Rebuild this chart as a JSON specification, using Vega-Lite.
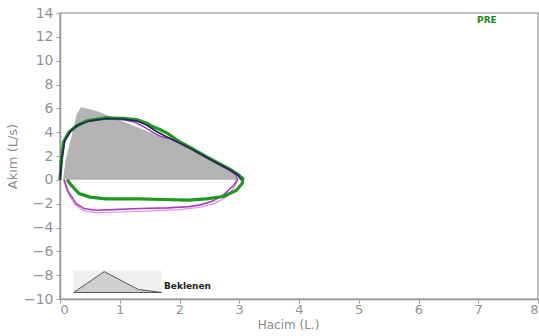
{
  "$schema": "https://vega.github.io/schema/vega-lite/v6.json",
  "width": 478,
  "height": 286,
  "autosize": {"type": "none"},
  "padding": {"left": 60, "top": 13, "right": 1, "bottom": 37},
  "background": "white",
  "config": {
    "view": {"stroke": "#b0b0b0", "strokeWidth": 1.5},
    "axis": {
      "grid": false,
      "labelFont": "DejaVu Sans",
      "labelFontSize": 14,
      "labelColor": "#939393",
      "labelOverlap": false,
      "labelBound": false,
      "titleFont": "DejaVu Sans",
      "titleFontSize": 13,
      "titleFontWeight": "normal",
      "titleColor": "#8c8c8c",
      "domainColor": "#9a9a9a",
      "domainWidth": 1.5,
      "tickColor": "#9a9a9a",
      "tickSize": 4
    }
  },
  "datasets": {
    "pred": [
      {"x": 0.05, "y": 0}, {"x": 0.1, "y": 1.8}, {"x": 0.2, "y": 3.8}, {"x": 0.28, "y": 5.5},
      {"x": 0.35, "y": 6.1}, {"x": 0.6, "y": 5.8}, {"x": 1.0, "y": 5.0}, {"x": 1.5, "y": 4.0},
      {"x": 2.0, "y": 3.0}, {"x": 2.5, "y": 1.8}, {"x": 2.8, "y": 0.9}, {"x": 3.0, "y": 0}
    ],
    "pink": [
      {"i": 0, "x": 2.97, "y": 0}, {"i": 1, "x": 2.92, "y": -0.6}, {"i": 2, "x": 2.8, "y": -1.4},
      {"i": 3, "x": 2.6, "y": -1.95}, {"i": 4, "x": 2.35, "y": -2.3}, {"i": 5, "x": 2.0, "y": -2.5},
      {"i": 6, "x": 1.5, "y": -2.6}, {"i": 7, "x": 1.0, "y": -2.7}, {"i": 8, "x": 0.6, "y": -2.75},
      {"i": 9, "x": 0.4, "y": -2.6}, {"i": 10, "x": 0.25, "y": -2.1}, {"i": 11, "x": 0.12, "y": -1.0},
      {"i": 12, "x": 0.06, "y": 0}
    ],
    "purple": [
      {"i": 0, "x": 0, "y": 0}, {"i": 1, "x": 0.03, "y": 1.8}, {"i": 2, "x": 0.08, "y": 3.3},
      {"i": 3, "x": 0.18, "y": 4.1}, {"i": 4, "x": 0.3, "y": 4.6}, {"i": 5, "x": 0.5, "y": 4.95},
      {"i": 6, "x": 0.77, "y": 5.1}, {"i": 7, "x": 1.05, "y": 5.05}, {"i": 8, "x": 1.25, "y": 4.85},
      {"i": 9, "x": 1.42, "y": 4.4}, {"i": 10, "x": 1.55, "y": 4.0}, {"i": 11, "x": 1.68, "y": 3.65},
      {"i": 12, "x": 1.85, "y": 3.4}, {"i": 13, "x": 2.0, "y": 3.05}, {"i": 14, "x": 2.2, "y": 2.55},
      {"i": 15, "x": 2.45, "y": 1.85}, {"i": 16, "x": 2.65, "y": 1.3}, {"i": 17, "x": 2.84, "y": 0.8},
      {"i": 18, "x": 2.95, "y": 0.35}, {"i": 19, "x": 2.97, "y": 0}, {"i": 20, "x": 2.9, "y": -0.5},
      {"i": 21, "x": 2.75, "y": -1.2}, {"i": 22, "x": 2.57, "y": -1.75}, {"i": 23, "x": 2.35, "y": -2.1},
      {"i": 24, "x": 2.16, "y": -2.25}, {"i": 25, "x": 1.8, "y": -2.35}, {"i": 26, "x": 1.33, "y": -2.4},
      {"i": 27, "x": 0.9, "y": -2.5}, {"i": 28, "x": 0.6, "y": -2.55}, {"i": 29, "x": 0.4, "y": -2.4},
      {"i": 30, "x": 0.27, "y": -2.0}, {"i": 31, "x": 0.13, "y": -0.9}, {"i": 32, "x": 0.07, "y": 0}
    ],
    "green": [
      {"i": 0, "x": 0, "y": 0}, {"i": 1, "x": 0.02, "y": 1.5}, {"i": 2, "x": 0.06, "y": 3.2},
      {"i": 3, "x": 0.15, "y": 4.0}, {"i": 4, "x": 0.27, "y": 4.5}, {"i": 5, "x": 0.45, "y": 4.95},
      {"i": 6, "x": 0.77, "y": 5.2}, {"i": 7, "x": 1.05, "y": 5.15}, {"i": 8, "x": 1.28, "y": 5.05},
      {"i": 9, "x": 1.45, "y": 4.75}, {"i": 10, "x": 1.56, "y": 4.45}, {"i": 11, "x": 1.68, "y": 4.2},
      {"i": 12, "x": 1.8, "y": 3.9}, {"i": 13, "x": 2.0, "y": 3.2}, {"i": 14, "x": 2.2, "y": 2.65},
      {"i": 15, "x": 2.45, "y": 1.95}, {"i": 16, "x": 2.65, "y": 1.4}, {"i": 17, "x": 2.84, "y": 0.9},
      {"i": 18, "x": 2.98, "y": 0.45}, {"i": 19, "x": 3.06, "y": 0.1}, {"i": 20, "x": 3.05, "y": -0.3},
      {"i": 21, "x": 2.95, "y": -0.9}, {"i": 22, "x": 2.73, "y": -1.4}, {"i": 23, "x": 2.45, "y": -1.6},
      {"i": 24, "x": 2.16, "y": -1.7}, {"i": 25, "x": 1.7, "y": -1.65}, {"i": 26, "x": 1.33, "y": -1.6},
      {"i": 27, "x": 0.77, "y": -1.6}, {"i": 28, "x": 0.5, "y": -1.45}, {"i": 29, "x": 0.32, "y": -1.15},
      {"i": 30, "x": 0.18, "y": -0.4}, {"i": 31, "x": 0.12, "y": 0}
    ],
    "navy": [
      {"i": 0, "x": 0, "y": 0}, {"i": 1, "x": 0.03, "y": 1.8}, {"i": 2, "x": 0.08, "y": 3.3},
      {"i": 3, "x": 0.18, "y": 4.1}, {"i": 4, "x": 0.3, "y": 4.6}, {"i": 5, "x": 0.5, "y": 4.95},
      {"i": 6, "x": 0.77, "y": 5.15}, {"i": 7, "x": 1.05, "y": 5.1}, {"i": 8, "x": 1.28, "y": 4.95},
      {"i": 9, "x": 1.45, "y": 4.6}, {"i": 10, "x": 1.6, "y": 4.1}, {"i": 11, "x": 1.75, "y": 3.7},
      {"i": 12, "x": 2.0, "y": 3.1}, {"i": 13, "x": 2.2, "y": 2.6}, {"i": 14, "x": 2.45, "y": 1.9},
      {"i": 15, "x": 2.65, "y": 1.35}, {"i": 16, "x": 2.84, "y": 0.85}, {"i": 17, "x": 2.98, "y": 0.4},
      {"i": 18, "x": 3.03, "y": 0}
    ],
    "legbox": [{"x": 0.22, "x2": 1.7, "y": -7.6, "y2": -9.4}],
    "legtri": [
      {"x": 0.23, "y": -9.45}, {"x": 0.74, "y": -7.7}, {"x": 1.31, "y": -9.2}, {"x": 1.7, "y": -9.45}
    ],
    "labels": [
      {"x": 1.74, "y": -8.95, "t": "Beklenen", "c": "leg"},
      {"x": 6.98, "y": 13.4, "t": "PRE", "c": "pre"}
    ]
  },
  "layer": [
    {
      "data": {"name": "legbox"},
      "mark": {"type": "rect", "color": "#efefef"},
      "encoding": {
        "x": {"field": "x", "type": "quantitative", "scale": {"domain": [0, 8], "nice": false},
          "axis": {"values": [0,1,2,3,4,5,6,7,8], "format": "d", "labelOverlap": false, "labelFontSize": 13, "title": "Hacim (L.)", "titleFontSize": 12, "labelPadding": 0, "titlePadding": 3, "titleX": 228}},
        "x2": {"field": "x2"},
        "y": {"field": "y", "type": "quantitative", "scale": {"domain": [-10, 14], "nice": false},
          "axis": {"values": [-10,-8,-6,-4,-2,0,2,4,6,8,10,12,14], "tickCount": 13, "format": "d", "labelOverlap": false, "title": "Akım (L/s)", "labelPadding": 3, "titlePadding": 4}},
        "y2": {"field": "y2"}
      }
    },
    {
      "data": {"name": "legtri"},
      "mark": {"type": "area", "color": "#cfcfcf", "stroke": "#555", "strokeWidth": 1},
      "encoding": {
        "x": {"field": "x", "type": "quantitative"},
        "y": {"field": "y", "type": "quantitative"},
        "y2": {"datum": -9.45}
      }
    },
    {
      "data": {"name": "pred"},
      "mark": {"type": "area", "color": "#b3b3b3"},
      "encoding": {
        "x": {"field": "x", "type": "quantitative"},
        "y": {"field": "y", "type": "quantitative"},
        "y2": {"datum": 0}
      }
    },
    {
      "mark": {"type": "rule", "color": "#333333", "strokeWidth": 1.5},
      "encoding": {"y": {"datum": 0}}
    },
    {
      "mark": {"type": "rule", "color": "#888888", "strokeWidth": 2},
      "encoding": {"x": {"datum": 8}}
    },
    {
      "data": {"name": "pink"},
      "mark": {"type": "line", "color": "#e58ee5", "strokeWidth": 1.2},
      "encoding": {
        "x": {"field": "x", "type": "quantitative"},
        "y": {"field": "y", "type": "quantitative"},
        "order": {"field": "i"}
      }
    },
    {
      "data": {"name": "purple"},
      "mark": {"type": "line", "color": "#a23fc4", "strokeWidth": 1.6},
      "encoding": {
        "x": {"field": "x", "type": "quantitative"},
        "y": {"field": "y", "type": "quantitative"},
        "order": {"field": "i"}
      }
    },
    {
      "data": {"name": "green"},
      "mark": {"type": "line", "color": "#1d9a1d", "strokeWidth": 3.2},
      "encoding": {
        "x": {"field": "x", "type": "quantitative"},
        "y": {"field": "y", "type": "quantitative"},
        "order": {"field": "i"}
      }
    },
    {
      "data": {"name": "navy"},
      "mark": {"type": "line", "color": "#23235e", "strokeWidth": 1.6},
      "encoding": {
        "x": {"field": "x", "type": "quantitative"},
        "y": {"field": "y", "type": "quantitative"},
        "order": {"field": "i"}
      }
    },
    {
      "data": {"name": "labels"},
      "mark": {"type": "text", "align": "left", "font": "DejaVu Sans", "fontWeight": "bold", "fontSize": 9, "baseline": "middle"},
      "encoding": {
        "x": {"field": "x", "type": "quantitative"},
        "y": {"field": "y", "type": "quantitative"},
        "text": {"field": "t"},
        "color": {"field": "c", "type": "nominal", "scale": {"domain": ["leg", "pre"], "range": ["#222222", "#1a8a1a"]}, "legend": null}
      }
    }
  ]
}
